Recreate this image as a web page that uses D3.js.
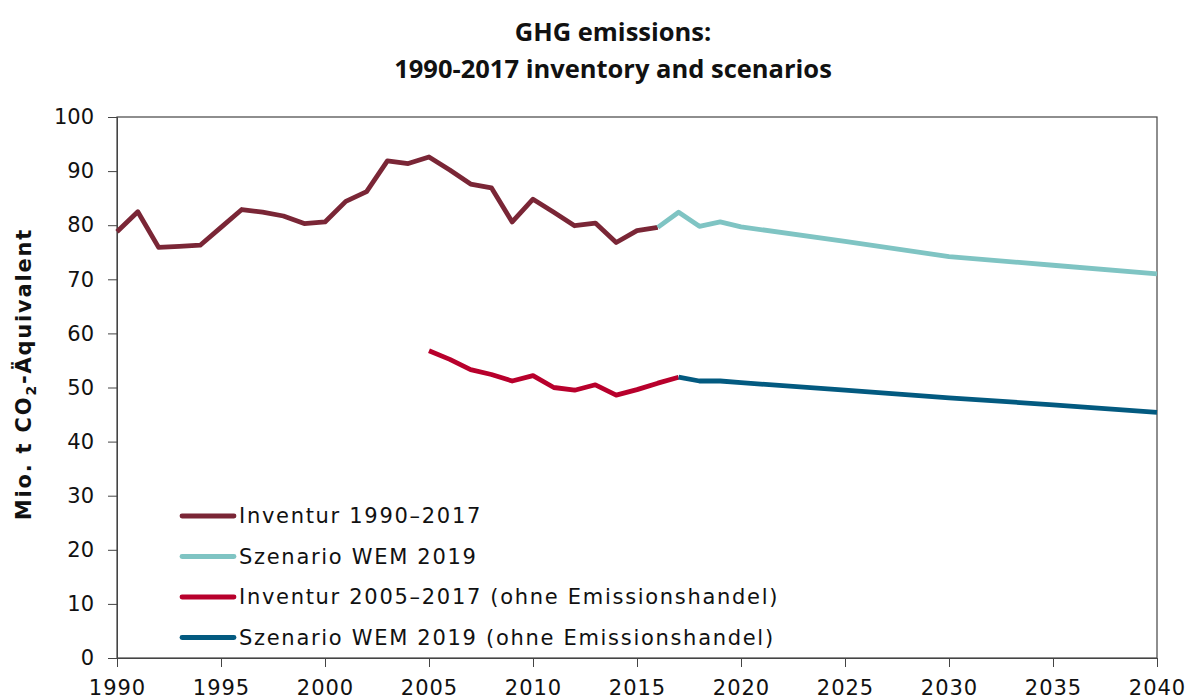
<!DOCTYPE html>
<html>
<head>
<meta charset="utf-8">
<script src="https://cdn.jsdelivr.net/npm/d3@7"></script>
<style>
  body { margin: 0; background: #fff; }
  svg { display: block; }
</style>
</head>
<body>
<div id="chart"></div>
<script>
// data
const inventurYears = d3.range(1990, 2017);
const inventur = [78.8, 82.5, 75.9, 76.1, 76.3, 79.6, 82.9, 82.4, 81.7, 80.3,
                  80.6, 84.4, 86.2, 91.9, 91.4, 92.6, 90.2, 87.6, 86.9, 80.6,
                  84.8, 82.4, 79.9, 80.4, 76.8, 79.0, 79.6];

const szenarioYears = [2016, 2017, 2018, 2019, 2020, 2025, 2030, 2035, 2040];
const szenario = [79.6, 82.4, 79.8, 80.6, 79.7, 77.0, 74.2, 72.6, 71.0];

const inventurEtsYears = d3.range(2005, 2018);
const inventurEts = [56.8, 55.2, 53.3, 52.4, 51.2, 52.2, 50.0, 49.5, 50.5, 48.6, 49.6, 50.8, 51.9];

const szenarioEtsYears = [2017, 2018, 2019, 2020, 2025, 2030, 2035, 2040];
const szenarioEts = [51.9, 51.2, 51.2, 50.9, 49.5, 48.1, 46.8, 45.4];

const xTicks = d3.range(1990, 2041, 5);
const yTicks = d3.range(0, 101, 10);

const seriesNames = ["Inventur 1990\u20132017", "Szenario WEM 2019",
                     "Inventur 2005\u20132017 (ohne Emissionshandel)",
                     "Szenario WEM 2019 (ohne Emissionshandel)"];
const colors = ["#7a2636", "#7fc4c3", "#b8002c", "#035a80"];

const width = 1191;
const height = 699;
const plotLeft = 117, plotRight = 1157, plotTop = 117, plotBottom = 658;
const font = "Verdana, 'DejaVu Sans', sans-serif";

const svg = d3.select("#chart").append("svg")
    .attr("width", width)
    .attr("height", height);

// Titel
const title = svg.append("text")
    .attr("x", 613)
    .attr("text-anchor", "middle")
    .attr("font-family", "Open Sans")
    .attr("font-weight", "bold")
    .attr("font-size", 25.5)
    .attr("fill", "#111");
title.append("tspan").attr("x", 613).attr("y", 41).text("GHG emissions:");
title.append("tspan").attr("x", 613).attr("y", 78).text("1990-2017 inventory and scenarios");

const xScale = d3.scaleLinear().domain([1990, 2040]).range([plotLeft, plotRight]);
const yScale = d3.scaleLinear().domain([0, 100]).range([plotBottom, plotTop]);

// frame
svg.append("rect")
    .attr("x", plotLeft).attr("y", plotTop)
    .attr("width", plotRight - plotLeft).attr("height", plotBottom - plotTop)
    .attr("fill", "none")
    .attr("stroke", "#444")
    .attr("stroke-width", 1.2);

// X axis
svg.append("g")
    .attr("transform", "translate(0," + plotBottom + ")")
    .call(d3.axisBottom(xScale).tickValues(xTicks).tickFormat(d3.format("d")).tickSize(9).tickPadding(13))
    .call(g => g.select(".domain").attr("stroke", "#444"))
    .call(g => g.selectAll(".tick line").attr("stroke", "#444"))
    .call(g => g.selectAll("text")
        .attr("font-family", font)
        .attr("font-size", 21)
        .attr("letter-spacing", 1)
        .attr("fill", "#111"));

// Y axis
svg.append("g")
    .attr("transform", "translate(" + plotLeft + ",0)")
    .call(d3.axisLeft(yScale).tickValues(yTicks).tickSize(9).tickPadding(14))
    .call(g => g.select(".domain").attr("stroke", "#444"))
    .call(g => g.selectAll(".tick line").attr("stroke", "#444"))
    .call(g => g.selectAll("text")
        .attr("font-family", font)
        .attr("font-size", 21)
        .attr("fill", "#111"));

// y label
const yLabel = svg.append("text")
    .attr("transform", "translate(31,374) rotate(-90)")
    .attr("text-anchor", "middle")
    .attr("font-family", font)
    .attr("font-weight", "bold")
    .attr("font-size", 21)
    .attr("letter-spacing", 1.8)
    .attr("fill", "#111");
yLabel.append("tspan").text("Mio. t CO");
yLabel.append("tspan").attr("font-size", 14).attr("dy", 5).text("2");
yLabel.append("tspan").attr("dy", -5).text("-\u00c4quivalent");

// lines
const line = d3.line()
    .x(d => xScale(d[0]))
    .y(d => yScale(d[1]));

const allSeries = [
    d3.zip(inventurYears, inventur),
    d3.zip(szenarioYears, szenario),
    d3.zip(inventurEtsYears, inventurEts),
    d3.zip(szenarioEtsYears, szenarioEts)
];

svg.append("g")
    .selectAll("path")
    .data(allSeries).enter()
    .append("path")
    .attr("d", line)
    .attr("fill", "none")
    .attr("stroke", (d, i) => colors[i])
    .attr("stroke-width", 4.8)
    .attr("stroke-linejoin", "round");

// legend
const legend = svg.append("g")
    .selectAll("g")
    .data(seriesNames).enter()
    .append("g")
    .attr("transform", (d, i) => "translate(180," + (516 + i * 40.5) + ")");

legend.append("line")
    .attr("x1", 2).attr("x2", 54)
    .attr("stroke", (d, i) => colors[i])
    .attr("stroke-width", 4.8)
    .attr("stroke-linecap", "round");

legend.append("text")
    .attr("x", 59)
    .attr("dy", "0.35em")
    .attr("font-family", font)
    .attr("font-size", 21)
    .attr("letter-spacing", 1.7)
    .attr("fill", "#111")
    .text(d => d);
</script>
</body>
</html>
